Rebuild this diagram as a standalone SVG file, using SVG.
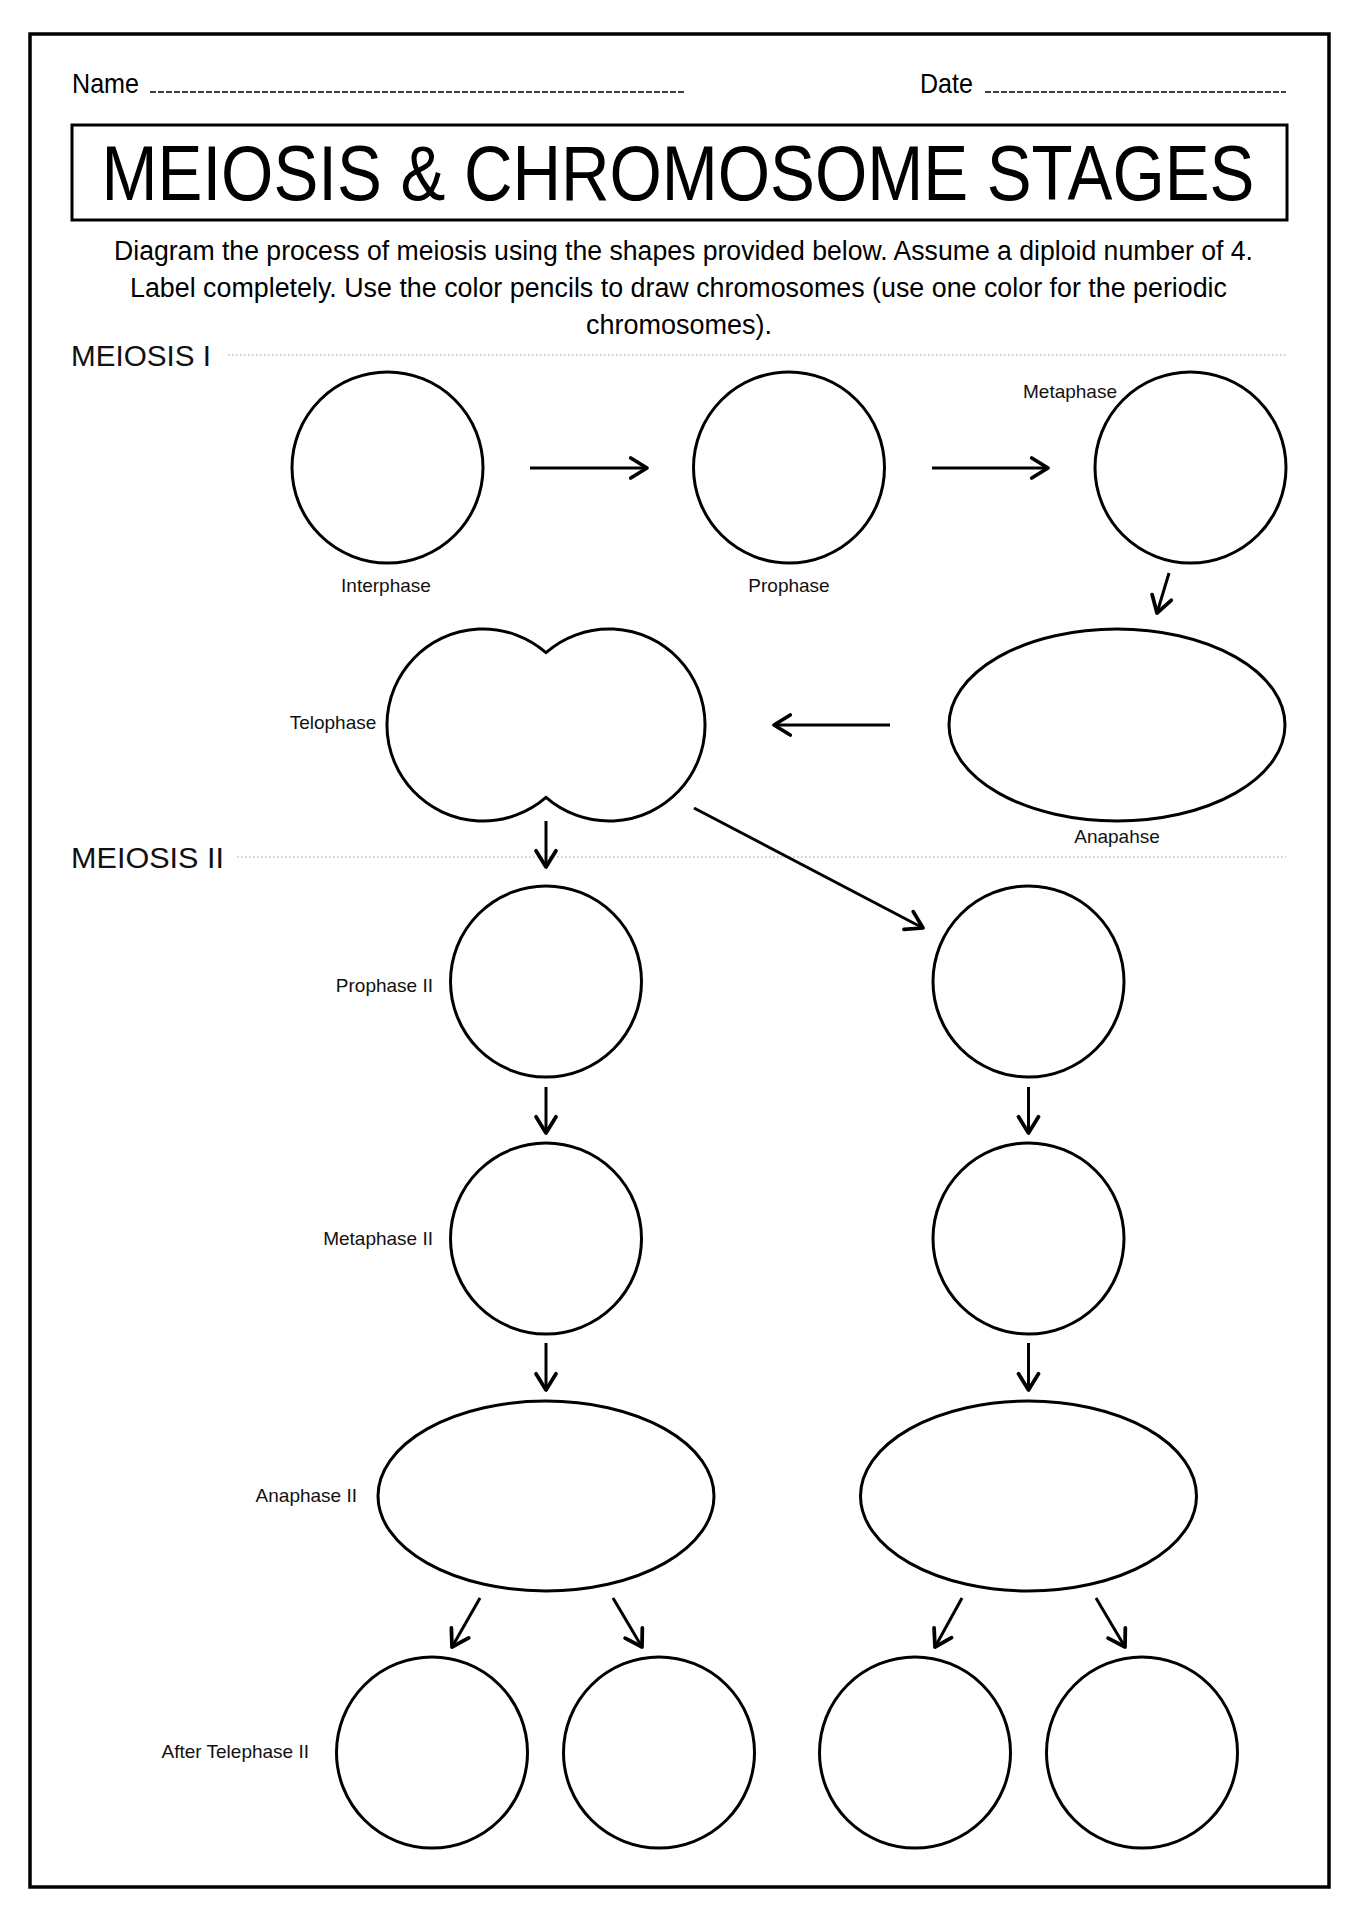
<svg xmlns="http://www.w3.org/2000/svg" width="1358" height="1920" viewBox="0 0 1358 1920">
<style>
.shape{fill:none;stroke:#000;stroke-width:3}
.conn{fill:none;stroke:#000;stroke-width:3;marker-end:url(#arr)}
.dots{fill:none;stroke:#999;stroke-width:1.2;stroke-dasharray:1.5 2.5}
.dash{fill:none;stroke:#000;stroke-width:1.6;stroke-dasharray:6 2}
.lbl{font-family:"Liberation Sans",Arial,sans-serif;font-size:19px;fill:#111}
.sec{font-family:"Liberation Sans",Arial,sans-serif;font-size:29px;fill:#111}
.ins{font-family:"Liberation Sans",Arial,sans-serif;font-size:27px;fill:#000}
.hdr{font-family:"Liberation Sans",Arial,sans-serif;font-size:28px;fill:#000}
.ttl{font-family:"Liberation Sans",Arial,sans-serif;font-size:78px;fill:#000}
</style>
<defs>
<marker id="arr" markerUnits="userSpaceOnUse" markerWidth="30" markerHeight="30" viewBox="-16 -12 20 24" refX="0" refY="0" orient="auto">
<path d="M-13,-8 L0,0 L-13,8" fill="none" stroke="#000" stroke-width="3" stroke-linecap="round" stroke-linejoin="round"/>
</marker>
</defs>
<rect x="0" y="0" width="1358" height="1920" fill="#fff"/>
<rect x="30" y="34" width="1299" height="1853" fill="none" stroke="#000" stroke-width="3.5"/>

<g id="header">
<text class="hdr" x="72" y="93" textLength="67" lengthAdjust="spacingAndGlyphs">Name</text>
<path class="dash" d="M150,92 H686"/>
<text class="hdr" x="920" y="93" textLength="53" lengthAdjust="spacingAndGlyphs">Date</text>
<path class="dash" d="M985,92 H1286"/>
</g>

<g id="title">
<rect x="72" y="125" width="1215" height="95" fill="none" stroke="#000" stroke-width="3"/>
<text class="ttl" transform="translate(678,200) scale(0.862,1)" x="0" y="0" text-anchor="middle">MEIOSIS &amp; CHROMOSOME STAGES</text>
</g>

<g id="instructions">
<text class="ins" x="114" y="260" textLength="1139" lengthAdjust="spacingAndGlyphs">Diagram the process of meiosis using the shapes provided below. Assume a diploid number of 4.</text>
<text class="ins" x="130" y="297" textLength="1097" lengthAdjust="spacingAndGlyphs">Label completely. Use the color pencils to draw chromosomes (use one color for the periodic</text>
<text class="ins" x="679" y="334" text-anchor="middle">chromosomes).</text>
</g>

<g id="meiosis1-header">
<text class="sec" x="71" y="366" textLength="140" lengthAdjust="spacingAndGlyphs">MEIOSIS I</text>
<path class="dots" d="M228,355 H1286"/>
</g>
<g id="meiosis2-header">
<text class="sec" x="71" y="868" textLength="153" lengthAdjust="spacingAndGlyphs">MEIOSIS II</text>
<path class="dots" d="M237,857 H1286"/>
</g>

<g id="interphase">
<circle class="shape" cx="387.5" cy="467.5" r="95.5"/>
<text class="lbl" x="386" y="592" text-anchor="middle">Interphase</text>
</g>
<g id="prophase">
<circle class="shape" cx="789" cy="467.5" r="95.5"/>
<text class="lbl" x="789" y="592" text-anchor="middle">Prophase</text>
</g>
<g id="metaphase">
<circle class="shape" cx="1190.5" cy="467.5" r="95.5"/>
<text class="lbl" x="1070" y="398" text-anchor="middle">Metaphase</text>
</g>
<g id="anaphase">
<ellipse class="shape" cx="1117" cy="725" rx="168" ry="96"/>
<text class="lbl" x="1117" y="843" text-anchor="middle">Anapahse</text>
</g>
<g id="telophase">
<path class="shape" d="M546,652.6 A96,96 0 1 0 546,797.4 A96,96 0 1 0 546,652.6 Z" stroke-linejoin="miter"/>
<text class="lbl" x="333" y="729" text-anchor="middle">Telophase</text>
</g>

<g id="prophase2-left">
<circle class="shape" cx="546" cy="981.5" r="95.5"/>
<text class="lbl" x="433" y="992" text-anchor="end">Prophase II</text>
</g>
<g id="prophase2-right">
<circle class="shape" cx="1028.5" cy="981.5" r="95.5"/>
</g>
<g id="metaphase2-left">
<circle class="shape" cx="546" cy="1238.5" r="95.5"/>
<text class="lbl" x="433" y="1245" text-anchor="end">Metaphase II</text>
</g>
<g id="metaphase2-right">
<circle class="shape" cx="1028.5" cy="1238.5" r="95.5"/>
</g>
<g id="anaphase2-left">
<ellipse class="shape" cx="546" cy="1496" rx="168" ry="95"/>
<text class="lbl" x="357" y="1502" text-anchor="end">Anaphase II</text>
</g>
<g id="anaphase2-right">
<ellipse class="shape" cx="1028.5" cy="1496" rx="168" ry="95"/>
</g>
<g id="telophase2-1">
<circle class="shape" cx="432" cy="1752.5" r="95.5"/>
<text class="lbl" x="309" y="1758" text-anchor="end">After Telephase II</text>
</g>
<g id="telophase2-2">
<circle class="shape" cx="659" cy="1752.5" r="95.5"/>
</g>
<g id="telophase2-3">
<circle class="shape" cx="915" cy="1752.5" r="95.5"/>
</g>
<g id="telophase2-4">
<circle class="shape" cx="1142" cy="1752.5" r="95.5"/>
</g>

<g id="connectors">
<path class="conn" d="M530,468 H647"/>
<path class="conn" d="M932,468 H1048"/>
<path class="conn" d="M1169,573 L1157,613"/>
<path class="conn" d="M890,725 H774"/>
<path class="conn" d="M546,821 V867"/>
<path class="conn" d="M694,808 L923,928"/>
<path class="conn" d="M546,1087 V1133"/>
<path class="conn" d="M1028.5,1087 V1133"/>
<path class="conn" d="M546,1343 V1390"/>
<path class="conn" d="M1028.5,1343 V1390"/>
<path class="conn" d="M480,1598 L452,1647"/>
<path class="conn" d="M613,1598 L642,1647"/>
<path class="conn" d="M962,1598 L935,1647"/>
<path class="conn" d="M1096,1598 L1125,1647"/>
</g>
</svg>
